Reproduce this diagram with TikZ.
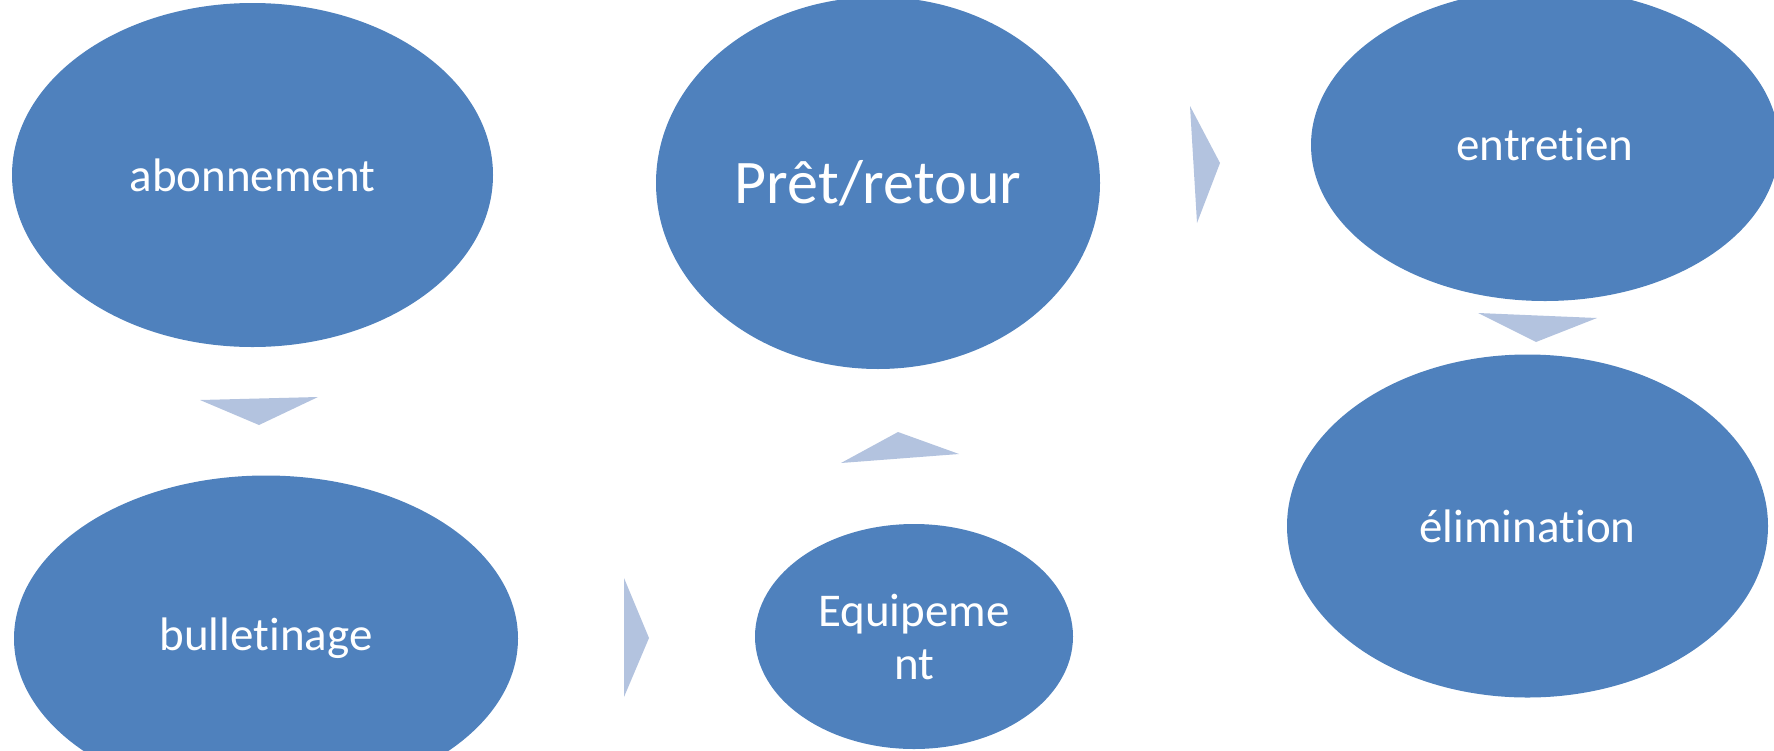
\documentclass[tikz,border=0pt]{standalone}
\usepackage{fontspec}
\setmainfont{Carlito}[Ligatures=NoCommon]
\usetikzlibrary{shapes.geometric}
\definecolor{stageblue}{HTML}{4F81BD}
\definecolor{flowblue}{HTML}{B3C3DF}
\tikzstyle{stage} = [ellipse, fill=stageblue, text=white, inner sep=0pt, outer sep=0pt, align=center, font=\fontsize{47}{53}\selectfont]
\tikzstyle{flow} = [fill=flowblue]
\newcommand{\flowtri}[3]{\fill[flow] #1 -- #2 -- #3 -- cycle;}

\begin{document}
\begin{tikzpicture}[x=1pt, y=-1pt]%
	\useasboundingbox (0,0) rectangle (1774,750);%
	\clip (0,0) rectangle (1774,750);%
	% stages
	\node [stage, minimum width=481pt, minimum height=344pt] (abo) at (252.5,175) {abonnement};%
	\node [stage, minimum width=504pt, minimum height=326pt] (bull) at (266,638.5) {bulletinage};%
	\node [stage, minimum width=318pt, minimum height=225pt] (equip) at (914,636.5) {Equipeme\\nt};%
	\node [stage, minimum width=444pt, minimum height=372pt, font=\fontsize{62}{70}\selectfont] (pret) at (878,183) {Prêt/retour};%
	\node [stage, minimum width=468pt, minimum height=312pt] (ent) at (1545,145) {entretien};%
	\node [stage, minimum width=481pt, minimum height=343pt] (elim) at (1527.5,526) {élimination};%
	% arrows
	\flowtri{(200,400)}{(318,397)}{(259,425)}%
	\flowtri{(624,578)}{(649,638)}{(624,697)}%
	\flowtri{(841,463)}{(898,432)}{(959,454)}%
	\flowtri{(1190,106)}{(1220,163)}{(1197,223)}%
	\flowtri{(1478,313)}{(1597,318)}{(1536,342)}%
\end{tikzpicture}
\end{document}
